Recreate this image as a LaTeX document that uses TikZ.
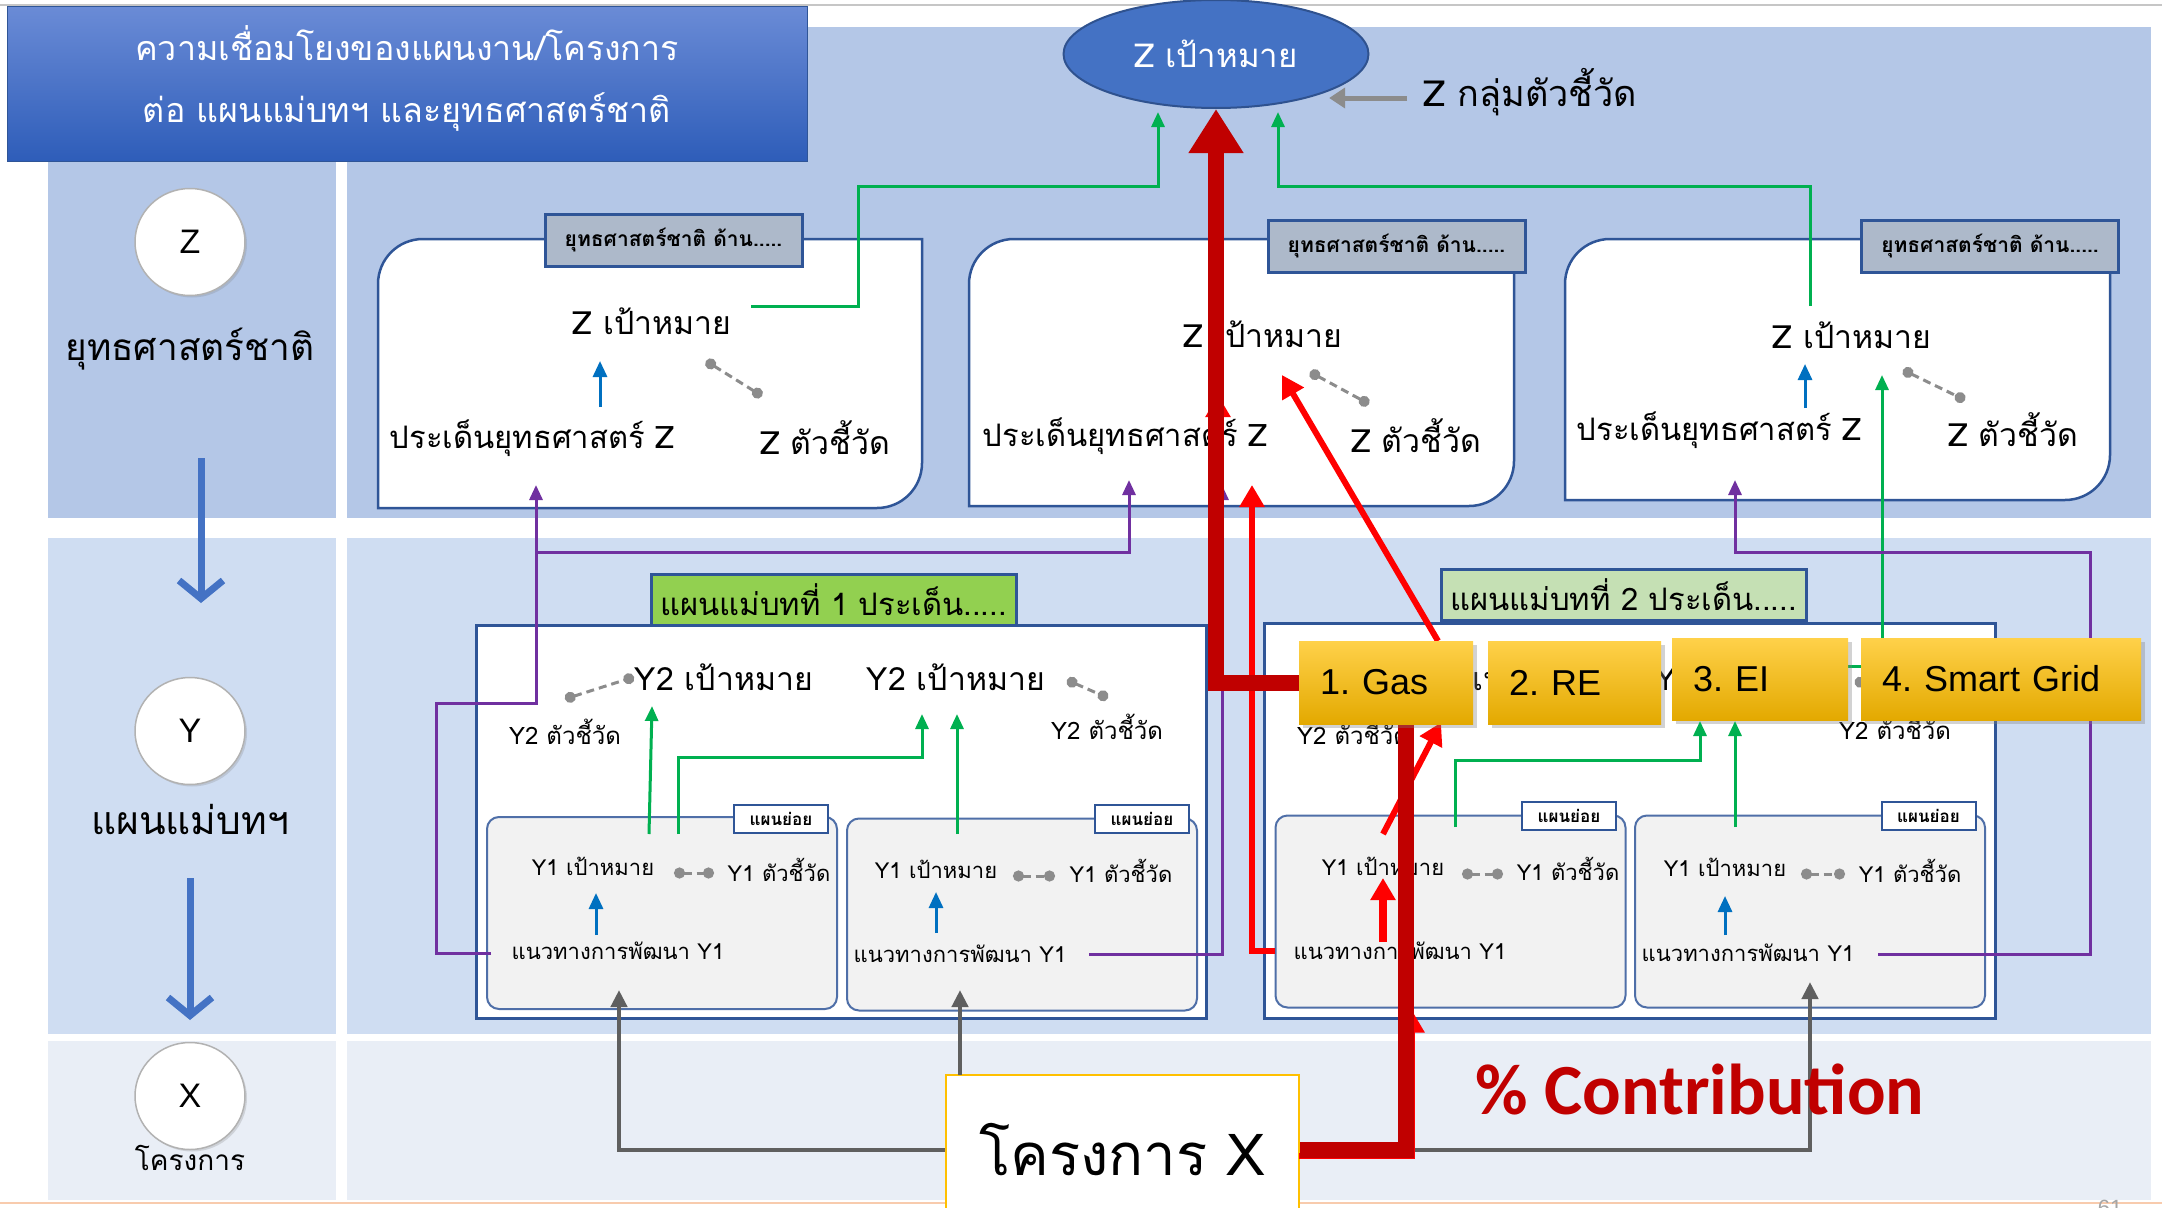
\documentclass[tikz,border=0pt]{standalone}
\usepackage{fontspec}
\setmainfont{Liberation Sans}
\newfontfamily\thaifont[Script=Thai]{Loma}
\newfontfamily\calfont{Carlito}
\usetikzlibrary{positioning,shapes.geometric,arrows.meta,shadows}
\frenchspacing

\definecolor{zrow}{HTML}{B4C7E7}
\definecolor{yrow}{HTML}{CFDDF2}
\definecolor{xrow}{HTML}{E9EEF6}
\definecolor{lineorange}{HTML}{F8CBAD}
\definecolor{titletop}{HTML}{6A8BD6}
\definecolor{titlebot}{HTML}{2E5DB9}
\definecolor{boxblue}{HTML}{2F5597}
\definecolor{goalblue}{HTML}{4472C4}
\definecolor{goalborder}{HTML}{2F528F}
\definecolor{linegreen}{HTML}{00B050}
\definecolor{linepurple}{HTML}{7030A0}
\definecolor{bluearrow}{HTML}{0070C0}
\definecolor{darkred}{HTML}{C00000}
\definecolor{tagbg}{HTML}{ADB9CA}
\definecolor{plangreen}{HTML}{92D050}
\definecolor{planlight}{HTML}{C5E0B4}
\definecolor{subbg}{HTML}{F2F2F2}
\definecolor{subline}{HTML}{4F6FA8}
\definecolor{gold}{HTML}{FFC000}
\definecolor{gastop}{HTML}{FFD14A}
\definecolor{gasbot}{HTML}{E3A900}
\definecolor{arrowgray}{HTML}{5F5F5F}
\definecolor{kpigray}{HTML}{8C8C8C}

\tikzset{
  th/.style={font=\thaifont\fontsize{#1}{#1}\selectfont, inner sep=1pt},
  titlebox/.style={rectangle, draw=boxblue, line width=1pt, top color=titletop, bottom color=titlebot,
    minimum width=800pt, minimum height=154pt},
  titletext/.style={text=white, align=center, font=\thaifont\fontsize{34}{62}\selectfont},
  lvl/.style={ellipse, draw=gray!60, line width=1.5pt, fill=white, minimum width=110pt, minimum height=107pt,
    font=\fontsize{34}{34}\selectfont, drop shadow={opacity=0.25, shadow xshift=2pt, shadow yshift=-2pt}},
  levelarr/.style={draw=goalblue, line width=7pt, -{Straight Barb[length=18pt, width=44pt]}},
  goal/.style={ellipse, fill=goalblue, draw=goalborder, line width=2pt, minimum width=305pt, minimum height=108pt,
    text=white, font=\thaifont\fontsize{33}{33}\selectfont},
  kpiarr/.style={draw=gray!90, line width=5pt, -{Triangle[length=16pt, width=20pt]}},
  area/.style={rectangle, draw=none, inner sep=0pt, outer sep=0pt},
  zframe/.style={draw=boxblue, line width=2.5pt, fill=white},
  stag/.style={rectangle, draw=boxblue, line width=3pt, fill=tagbg, minimum width=257pt, minimum height=52pt,
    font=\thaifont\bfseries\fontsize{21}{21}\selectfont},
  plan/.style={rectangle, draw=boxblue, line width=3pt, fill=white},
  ptag/.style={rectangle, draw=boxblue, line width=3pt, minimum width=365pt, minimum height=51pt,
    font=\thaifont\fontsize{31}{31}\selectfont},
  sub/.style={rectangle, rounded corners=12pt, draw=subline, line width=2pt, fill=subbg,
    minimum width=350pt, minimum height=192pt},
  subtag/.style={rectangle, draw=boxblue, line width=2pt, fill=white, minimum width=94pt, minimum height=28pt,
    inner sep=0pt, font=\thaifont\bfseries\fontsize{17}{17}\selectfont},
  greenarr/.style={draw=linegreen, line width=3pt, -{Triangle[length=15pt, width=13pt]}},
  bluearr/.style={draw=bluearrow, line width=3pt, -{Triangle[length=16pt, width=14pt]}},
  purplearr/.style={draw=linepurple, line width=3pt, -{Triangle[length=15pt, width=13pt]}},
  grayarr/.style={draw=arrowgray, line width=4.5pt, -{Triangle[length=17pt, width=16pt]}},
  kpiline/.style={draw=kpigray, line width=3pt, dash pattern=on 8pt off 5pt,
    {Circle[length=11pt]}-{Circle[length=11pt]}},
  redarr/.style={draw=red, line width=6pt, -{Triangle[length=22pt, width=24pt]}},
  bigred/.style={draw=darkred, line width=16pt},
  gasbox/.style={rectangle, top color=gastop, middle color=gold, bottom color=gasbot, minimum height=82pt,
    inner xsep=21pt, align=left, font=\fontsize{36}{36}\selectfont,
    drop shadow={opacity=0.35, shadow xshift=4pt, shadow yshift=-4pt}},
  projbox/.style={rectangle, draw=gold, line width=2.5pt, fill=white, minimum width=353pt, minimum height=150pt,
    font=\thaifont\fontsize{58}{58}\selectfont}
}

\begin{document}
\begin{tikzpicture}[x=1pt, y=-1pt]
\useasboundingbox (0,0) rectangle (2162,1207);

% background bands
\fill[white] (0,0) rectangle (2162,1207);
\draw[gray!45, line width=2pt] (0,5) -- (2162,5);
\fill[zrow] (48,27) rectangle (336,518);
\fill[zrow] (347,27) rectangle (2151,518);
\fill[yrow] (48,538) rectangle (336,1034);
\fill[yrow] (347,538) rectangle (2151,1034);
\fill[xrow] (48,1041) rectangle (336,1200);
\fill[xrow] (347,1041) rectangle (2151,1200);
\draw[lineorange, line width=2pt] (0,1203) -- (2162,1203);
\node[font=\fontsize{22}{22}\selectfont, text=gray!70, anchor=north] (pageno) at (2110,1197) {61};

% title
\node[titlebox] (title) at (407,84) {};
\node[titletext] (titletxt) at (407,78) {ความเชื่อมโยงของแผนงาน/โครงการ\\ต่อ แผนแม่บทฯ และยุทธศาสตร์ชาติ};

% levels on the left
\node[lvl] (cz) at (190,242) {Z};
\node[th=37] (lz) at (190,349) {ยุทธศาสตร์ชาติ};
\node[lvl] (cy) at (190,731) {Y};
\node[th=39] (ly) at (190,819) {แผนแม่บทฯ};
\node[lvl] (cx) at (190,1096) {X};
\node[th=28] (lx) at (190,1158) {โครงการ};
\coordinate (zdown) at (201,458);
\coordinate (ydown) at (190,878);
\draw[levelarr] (zdown) -- ++(0,145);
\draw[levelarr] (ydown) -- ++(0,142);

% national strategy boxes
\node[area, minimum width=544pt, minimum height=269pt] (zb1) at (650,373.5) {};
\node[area, minimum width=545pt, minimum height=267pt] (zb2) at (1241.5,372.5) {};
\node[area, minimum width=545pt, minimum height=261pt] (zb3) at (1837.5,369.5) {};
\foreach \b in {zb1,zb2,zb3}
  \draw[zframe] (\b.south west) -- ([yshift=-45pt]\b.north west) to[out=90,in=180] ([xshift=45pt]\b.north west)
    -- (\b.north east) -- ([yshift=45pt]\b.south east) to[out=-90,in=0] ([xshift=-45pt]\b.south east) -- cycle;
\node[stag] (st1) at (673.5,240) {ยุทธศาสตร์ชาติ ด้าน.....};
\node[stag] (st2) at (1396.5,246.5) {ยุทธศาสตร์ชาติ ด้าน.....};
\node[stag] (st3) at (1990,246.5) {ยุทธศาสตร์ชาติ ด้าน.....};

\node[th=32] (zg1) at (652,321) {Z เป้าหมาย};
\node[th=31] (zi1) at (532,438) {ประเด็นยุทธศาสตร์ Z};
\node[th=32] (zk1) at (825,438) {Z ตัวชี้วัด};
\node[th=32] (zg2) at (1263,334) {Z เป้าหมาย};
\node[th=31] (zi2) at (1125,436) {ประเด็นยุทธศาสตร์ Z};
\node[th=32] (zk2) at (1416,436) {Z ตัวชี้วัด};
\node[th=32] (zg3) at (1852,335) {Z เป้าหมาย};
\node[th=31] (zi3) at (1719,430) {ประเด็นยุทธศาสตร์ Z};
\node[th=32] (zk3) at (2013,430) {Z ตัวชี้วัด};

% top goal
\node[goal] (zgoal) at (1216,54) {Z เป้าหมาย};
\node[th=36] (zkpi) at (1530,92) {Z กลุ่มตัวชี้วัด};
\draw[kpiarr] ([shift={(-15,6)}]zkpi.west) -- ++(-78,0);

% master plans
\node[plan, minimum width=730pt, minimum height=393pt] (p1) at (841,821.5) {};
\node[ptag, fill=plangreen] (pt1) at (833.5,599.5) {แผนแม่บทที่ 1 ประเด็น.....};
\node[plan, minimum width=731pt, minimum height=395pt] (p2) at (1629.5,820.5) {};
\node[ptag, fill=planlight] (pt2) at (1623.5,594.5) {แผนแม่บทที่ 2 ประเด็น.....};

\node[th=32] (y2g11) at (724,677) {Y2 เป้าหมาย};
\node[th=24] (y2k11) at (565,732) {Y2 ตัวชี้วัด};
\node[th=32] (y2g12) at (956,677) {Y2 เป้าหมาย};
\node[th=24] (y2k12) at (1107,727) {Y2 ตัวชี้วัด};
\node[th=32] (y2g21) at (1512,677) {Y2 เป้าหมาย};
\node[th=24] (y2k21) at (1353,732) {Y2 ตัวชี้วัด};
\node[th=32] (y2g22) at (1744,677) {Y2 เป้าหมาย};
\node[th=24] (y2k22) at (1895,727) {Y2 ตัวชี้วัด};

% sub plans
\node[sub] (s11) at (662,913) {};
\node[sub] (s12) at (1022,914.5) {};
\node[sub] (s21) at (1450.5,911.5) {};
\node[sub] (s22) at (1810,911.5) {};
\node[subtag] (t11) at (781,819) {แผนย่อย};
\node[subtag] (t12) at (1142,819) {แผนย่อย};
\node[subtag] (t21) at (1569,816) {แผนย่อย};
\node[subtag] (t22) at (1928.5,816) {แผนย่อย};

\node[th=22] (y1g11) at (593,866) {Y1 เป้าหมาย};
\node[th=22] (y1k11) at (779,870) {Y1 ตัวชี้วัด};
\node[th=22] (path11) at (618,951) {แนวทางการพัฒนา Y1};
\node[th=22] (y1g12) at (936,869) {Y1 เป้าหมาย};
\node[th=22] (y1k12) at (1121,871) {Y1 ตัวชี้วัด};
\node[th=22] (path12) at (960,954) {แนวทางการพัฒนา Y1};
\node[th=22] (y1g21) at (1383,866) {Y1 เป้าหมาย};
\node[th=22] (y1k21) at (1568,869) {Y1 ตัวชี้วัด};
\node[th=22] (path21) at (1400,951) {แนวทางการพัฒนา Y1};
\node[th=22] (y1g22) at (1725,867) {Y1 เป้าหมาย};
\node[th=22] (y1k22) at (1910,871) {Y1 ตัวชี้วัด};
\node[th=22] (path22) at (1748,953) {แนวทางการพัฒนา Y1};

% goal -- indicator links
\draw[kpiline] ([shift={(54,40)}]zg1.center) -- ([shift={(-63,-42)}]zk1.center);
\draw[kpiline] ([shift={(47,38)}]zg2.center) -- ([shift={(-47,-32)}]zk2.center);
\draw[kpiline] ([shift={(51,35)}]zg3.center) -- ([shift={(-48,-30)}]zk3.center);
\draw[kpiline] ([shift={(0,-33)}]y2k11.center) -- ([shift={(-90,0)}]y2g11.center);
\draw[kpiline] ([shift={(111,3)}]y2g12.center) -- ([shift={(1,-29)}]y2k12.center);
\draw[kpiline] ([shift={(0,-33)}]y2k21.center) -- ([shift={(-90,0)}]y2g21.center);
\draw[kpiline] ([shift={(111,3)}]y2g22.center) -- ([shift={(1,-29)}]y2k22.center);
\draw[kpiline] ([shift={(81,7)}]y1g11.center) -- ([shift={(-65,3)}]y1k11.center);
\draw[kpiline] ([shift={(77,7)}]y1g12.center) -- ([shift={(-66,5)}]y1k12.center);
\draw[kpiline] ([shift={(79,8)}]y1g21.center) -- ([shift={(-65,5)}]y1k21.center);
\draw[kpiline] ([shift={(76,7)}]y1g22.center) -- ([shift={(-65,3)}]y1k22.center);

% blue arrows
\draw[bluearr] ([shift={(68,-31)}]zi1.center) -- ([shift={(-52,40)}]zg1.center);
\draw[bluearr] ([shift={(86,-22)}]zi3.center) -- ([shift={(-47,29)}]zg3.center);
\draw[bluearr] ([shift={(-22,-16)}]path11.center) -- ([shift={(3,27)}]y1g11.center);
\draw[bluearr] ([shift={(-24,-21)}]path12.center) -- ([shift={(0,23)}]y1g12.center);
\draw[bluearr] ([shift={(-23,-18)}]path22.center) -- ([shift={(0,29)}]y1g22.center);

% green arrows
\draw[greenarr] ([shift={(99,-15)}]zg1.center) -- ++(107,0) -- ++(0,-120) -| ([shift={(-58,58)}]zgoal.center);
\draw[greenarr] ([shift={(-42,-29)}]zg3.center) -- ++(0,-120) -| ([shift={(62,58)}]zgoal.center);
\draw[greenarr] ([shift={(-13,-79)}]s11.center) -- ([shift={(-72,29)}]y2g11.center);
\draw[greenarr] ([shift={(16,-79)}]s11.center) -- ++(0,-77) -| ([shift={(-34,37)}]y2g12.center);
\draw[greenarr] ([shift={(-65,-80.5)}]s12.center) -- ([shift={(1,37)}]y2g12.center);
\draw[greenarr] ([shift={(76,-11)}]y2g22.center) -| ([shift={(30,40)}]zg3.center);

% purple arrows
\draw[purplearr] ([shift={(-127,2)}]path11.center) -- ++(-55,0) -- ++(0,-250) -| ([shift={(-114,111.5)}]zb1.center);
\draw[purplearr] ([shift={(-114,178.5)}]zb1.center) -| ([shift={(-112.5,107.5)}]zb2.center);
\draw[purplearr] ([shift={(129,0)}]path12.center) -| ([shift={(-19.5,112.5)}]zb2.center);
\draw[purplearr] ([shift={(130,1)}]path22.center) -- ++(212,0) -- ++(0,-402) -| ([shift={(-102.5,110.5)}]zb3.center);

% project box and its links
\node[projbox] (projx) at (1122.5,1150) {โครงการ X};
\draw[grayarr] (projx.west) -| ([shift={(-43,77)}]s11.center);
\draw[grayarr] ([shift={(-162.5,-75)}]projx.center) -- ([shift={(-62,75.5)}]s12.center);
\draw[grayarr] (projx.east) -| ([shift={(0,70.5)}]s22.center);
\node[font=\calfont\bfseries\fontsize{72}{72}\selectfont, text=darkred] (contrib) at (1700,1089) {\% Contribution};

% contribution paths
\node[area, minimum width=174pt, minimum height=83pt] (gasarea) at (1386,682.5) {};
\draw[redarr] ([shift={(-125,0)}]path21.center) -| ([shift={(10.5,112.5)}]zb2.center);
\draw[redarr] ([shift={(93,-10)}]zi2.center) -- ([shift={(-45,61)}]zg2.center);
\draw[redarr] ([shift={(52,-41.5)}]gasarea.center) -- ([shift={(19,41)}]zg2.center);
\draw[redarr] ([shift={(0,-32)}]y1g21.center) -- ([shift={(55,40)}]gasarea.center);
\draw[redarr, line width=8pt] ([shift={(-17,-9)}]path21.center) -- ([shift={(0,12)}]y1g21.center);
\draw[redarr] ([shift={(176.5,6)}]projx.center) -| ([shift={(-217.5,190)}]p2.center);
\draw[bigred, -{Triangle[length=44pt, width=52pt]}] (gasarea.west) -| (zgoal.south);
\draw[bigred] (projx.east) -| ([shift={(20,41.5)}]gasarea.center);

% energy themes
\node[gasbox, minimum width=174pt, minimum height=83pt, text width=132pt] (gas) at (1386,682.5) {1. Gas};
\node[gasbox, minimum width=173pt, minimum height=83pt, text width=131pt] (re) at (1574.5,682.5) {2. RE};
\node[gasbox, minimum width=176pt, text width=134pt] (ei) at (1760,679) {3. EI};
\node[gasbox, minimum width=280pt, text width=238pt] (sg) at (2001,679) {4. Smart Grid};
\draw[greenarr] ([shift={(4.5,-84.5)}]s21.center) -- ++(0,-67) -| ([shift={(-60,42)}]ei.center);
\draw[greenarr] ([shift={(-75,-84.5)}]s22.center) -- ([shift={(-25,42)}]ei.center);
\end{tikzpicture}
\end{document}
